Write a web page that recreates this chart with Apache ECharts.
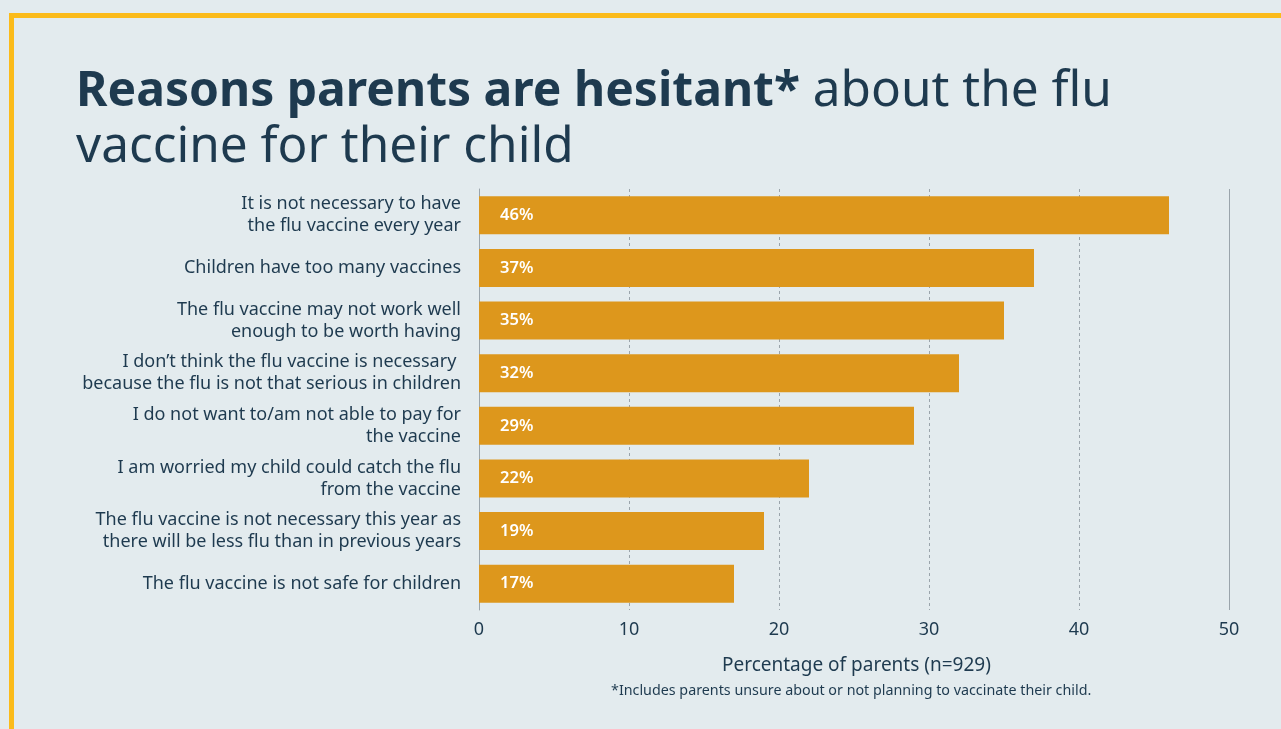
<!DOCTYPE html>
<html>
<head>
<meta charset="utf-8">
<script src="https://cdn.jsdelivr.net/npm/echarts@6/dist/echarts.min.js"></script>
<style>
  html, body { margin: 0; padding: 0; background: #e3ebee; }
  #frame { position: absolute; left: 9px; top: 13px; width: 1300px; height: 740px;
    border-left: 5px solid #fbbb1a; border-top: 5px solid #fbbb1a; box-sizing: border-box; }
  #main { position: absolute; left: 0; top: 0; width: 1281px; height: 729px; }
</style>
</head>
<body>
<div id="frame"></div>
<div id="main"></div>
<script>
  // reasons, top to bottom
  var reasons = [
    'It is not necessary to have\nthe flu vaccine every year',
    'Children have too many vaccines',
    'The flu vaccine may not work well\nenough to be worth having',
    'I don\u2019t think the flu vaccine is necessary \nbecause the flu is not that serious in children',
    'I do not want to/am not able to pay for\nthe vaccine',
    'I am worried my child could catch the flu\nfrom the vaccine',
    'The flu vaccine is not necessary this year as\nthere will be less flu than in previous years',
    'The flu vaccine is not safe for children'
  ];
  var percents = [46, 37, 35, 32, 29, 22, 19, 17];
  var xTicks = [0, 10, 20, 30, 40, 50];

  var navy = '#1e3a4f';
  var font = 'Noto Sans';

  var myChart = echarts.init(document.getElementById('main'));
  myChart.setOption({
    textStyle: { fontFamily: font },
    title: {
      left: 71,
      top: 59,
      text: '{b|Reasons parents are hesitant*}{r| about the flu}\n{r|vaccine for their child}',
      textStyle: {
        rich: {
          b: { fontFamily: font, fontWeight: 'bold', fontSize: 48, color: navy, lineHeight: 56 },
          r: { fontFamily: font, fontWeight: 400, fontSize: 49.5, color: navy, lineHeight: 56 }
        }
      }
    },
    graphic: [
      {
        type: 'text', top: 656, left: 722,
        style: { text: 'Percentage of parents (n=929)', fill: navy, font: '19px ' + font }
      },
      {
        type: 'text', top: 684, left: 611,
        style: { text: '*Includes parents unsure about or not planning to vaccinate their child.', fill: navy, font: '14.3px ' + font }
      }
    ],
    grid: { left: 479, right: 52, top: 189, bottom: 119, containLabel: false },
    xAxis: {
      type: 'value',
      min: 0, max: 50, interval: 10,
      axisLine: { show: false },
      axisTick: { show: false },
      axisLabel: { color: navy, fontSize: 18, margin: 11, fontFamily: font },
      splitLine: { show: true, lineStyle: { color: '#9aa4ab', type: [3, 3], width: 1 } }
    },
    yAxis: {
      type: 'category',
      inverse: true,
      data: reasons,
      axisLine: { show: true, lineStyle: { color: '#9aa4ab', width: 1 } },
      axisTick: { show: false },
      axisLabel: { color: navy, fontSize: 18, margin: 18, lineHeight: 22, align: 'right', fontFamily: font }
    },
    series: [{
      type: 'bar',
      data: percents,
      barCategoryGap: '28%',
      itemStyle: { color: '#dd971c' },
      label: {
        show: true,
        position: 'insideLeft',
        distance: 21,
        formatter: '{c}%',
        color: '#ffffff',
        fontSize: 16.5,
        fontWeight: 600,
        fontFamily: font
      },
      markLine: {
        silent: true,
        symbol: 'none',
        label: { show: false },
        lineStyle: { color: '#9aa4ab', type: 'solid', width: 1 },
        data: [{ xAxis: 50 }]
      }
    }]
  });
</script>
</body>
</html>
